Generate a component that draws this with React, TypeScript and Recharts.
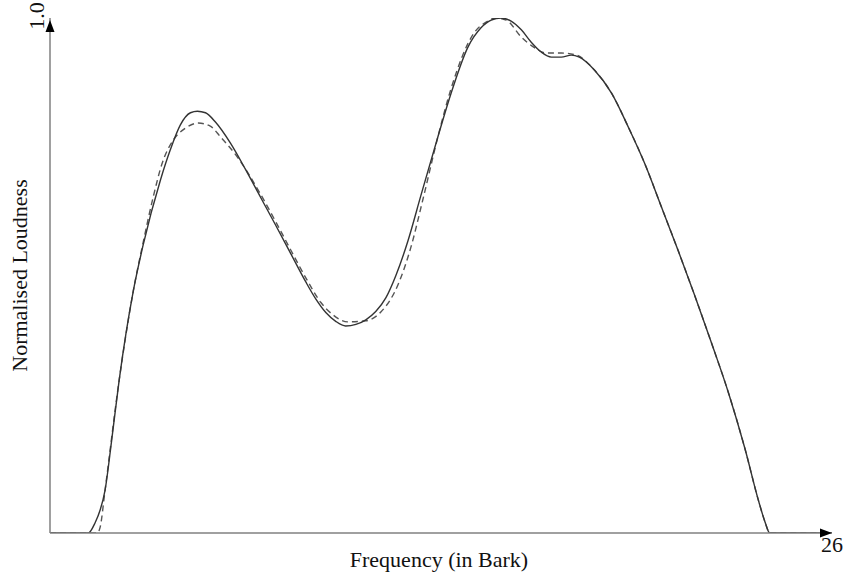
import { LineChart, Line, XAxis, YAxis, ReferenceDot } from 'recharts';

// measured loudness pattern (solid)
const measuredBark = [
  0, 1.27, 1.5, 1.67, 1.83, 2.05, 2.3, 2.77, 3.1, 3.67, 4.0, 4.33, 4.67, 4.9, 5.17, 5.5, 6.0, 6.5, 7.0,
  7.5, 8.0, 8.5, 8.83, 9.17, 9.5, 9.83, 10.17, 10.5, 10.83, 11.17, 11.5, 11.9, 12.33, 12.9, 13.33, 13.9,
  14.33, 14.67, 15.0, 15.33, 15.67, 16.0, 16.33, 16.67, 17.0, 17.33, 17.6, 18.1, 18.67, 19.23, 19.77,
  20.33, 20.9, 21.43, 22.0, 22.57, 23.1, 23.57, 23.77, 23.93, 26,
];
const measuredLoudness = [
  0, 0, 0.02, 0.045, 0.083, 0.18, 0.297, 0.47, 0.56, 0.685, 0.744, 0.792, 0.816, 0.819, 0.816, 0.798,
  0.757, 0.706, 0.652, 0.598, 0.543, 0.488, 0.455, 0.428, 0.411, 0.402, 0.405, 0.414, 0.43, 0.457, 0.5,
  0.567, 0.655, 0.77, 0.853, 0.944, 0.981, 0.996, 1.0, 0.994, 0.977, 0.953, 0.934, 0.924, 0.924, 0.928,
  0.924, 0.899, 0.854, 0.788, 0.718, 0.633, 0.546, 0.462, 0.368, 0.27, 0.165, 0.06, 0.022, 0, 0,
];

// fitted model (dashed)
const modelBark = [
  0, 1.57, 1.67, 1.83, 2.3, 2.77, 3.1, 3.43, 3.73, 4.1, 4.5, 4.93, 5.33, 5.67, 6.23, 7.0, 7.5, 8.0,
  8.5, 9.0, 9.4, 9.9, 10.5, 11.0, 11.57, 12.0, 12.4, 12.9, 13.33, 14.1, 14.5, 14.83, 15.17, 15.67,
  16.07, 16.5, 17.0, 17.5, 18.1, 18.67, 19.23, 19.77, 20.33, 20.9, 21.43, 22.0, 22.57, 23.1, 23.57,
  23.77, 23.93, 26,
];
const modelLoudness = [
  0, 0, 0.012, 0.083, 0.297, 0.47, 0.565, 0.652, 0.718, 0.763, 0.786, 0.796, 0.79, 0.769, 0.73, 0.658,
  0.605, 0.55, 0.496, 0.448, 0.424, 0.41, 0.412, 0.429, 0.482, 0.555, 0.648, 0.77, 0.862, 0.971, 0.992,
  1.0, 0.996, 0.963, 0.944, 0.932, 0.932, 0.928, 0.899, 0.854, 0.788, 0.718, 0.633, 0.546, 0.462,
  0.368, 0.27, 0.165, 0.06, 0.022, 0, 0,
];

const xTicks = [26];
const yTicks = [1];

const measured = measuredBark.map((b, i) => ({ bark: b, loud: measuredLoudness[i] }));
const model = modelBark.map((b, i) => ({ bark: b, loud: modelLoudness[i] }));

const serif = '"Liberation Serif", "Times New Roman", serif';
const axisGrey = '#808080';

const XTick = (props: any) => {
  const { x, y, payload } = props;
  return (
    <text x={x} y={y + 11} textAnchor="middle" fontFamily={serif} fontSize={22} fill="#111">
      {payload.value}
    </text>
  );
};

const YTick = (props: any) => {
  const { x, y, payload } = props;
  const tx = x + 2;
  const ty = y - 2;
  return (
    <text
      x={tx}
      y={ty}
      textAnchor="middle"
      fontFamily={serif}
      fontSize={22}
      fill="#111"
      transform={`rotate(-90 ${tx} ${ty})`}
    >
      {payload.value.toFixed(1)}
    </text>
  );
};

const UpArrow = (props: any) => {
  const { cx, cy } = props;
  const tip = cy + 2;
  return <path d={`M${cx},${tip} L${cx - 4.5},${tip + 12} L${cx + 4.5},${tip + 12} Z`} fill="#000" />;
};

const RightArrow = (props: any) => {
  const { cx, cy } = props;
  return <path d={`M${cx},${cy} L${cx - 12},${cy - 4.5} L${cx - 12},${cy + 4.5} Z`} fill="#000" />;
};

export default function App() {
  return (
    <div style={{ position: 'absolute', left: 0, top: 0, background: '#fff' }}>
      <LineChart width={848} height={578} margin={{ top: 18, right: 16, bottom: 20, left: 0 }}>
        <XAxis
          type="number"
          dataKey="bark"
          domain={[0, 26]}
          ticks={xTicks}
          interval={0}
          tickLine={false}
          tick={<XTick />}
          height={25}
          axisLine={{ stroke: axisGrey, strokeWidth: 1.5 }}
          allowDataOverflow
          label={(p: any) => {
            const vb = p.viewBox;
            return (
              <text
                x={vb.x + vb.width / 2 - 2}
                y={vb.y + 34}
                textAnchor="middle"
                fontFamily={serif}
                fontSize={22}
                fill="#111"
              >
                Frequency (in Bark)
              </text>
            );
          }}
        />
        <YAxis
          type="number"
          domain={[0, 1]}
          ticks={yTicks}
          interval={0}
          tickLine={false}
          tick={<YTick />}
          width={50}
          axisLine={{ stroke: axisGrey, strokeWidth: 1.5 }}
          allowDataOverflow
          label={(p: any) => {
            const vb = p.viewBox;
            const lx = vb.x + 27;
            const ly = vb.y + vb.height / 2;
            return (
              <text
                x={lx}
                y={ly}
                textAnchor="middle"
                fontFamily={serif}
                fontSize={22}
                fill="#111"
                transform={`rotate(-90 ${lx} ${ly})`}
              >
                Normalised Loudness
              </text>
            );
          }}
        />
        <Line
          data={model}
          dataKey="loud"
          type="monotone"
          stroke="#555"
          strokeWidth={1.4}
          strokeDasharray="6 4"
          dot={false}
          isAnimationActive={false}
        />
        <Line
          data={measured}
          dataKey="loud"
          type="monotone"
          stroke="#333"
          strokeWidth={1.4}
          dot={false}
          isAnimationActive={false}
        />
        <ReferenceDot x={0} y={1} ifOverflow="visible" shape={<UpArrow />} />
        <ReferenceDot x={26} y={0} ifOverflow="visible" shape={<RightArrow />} />
      </LineChart>
    </div>
  );
}
